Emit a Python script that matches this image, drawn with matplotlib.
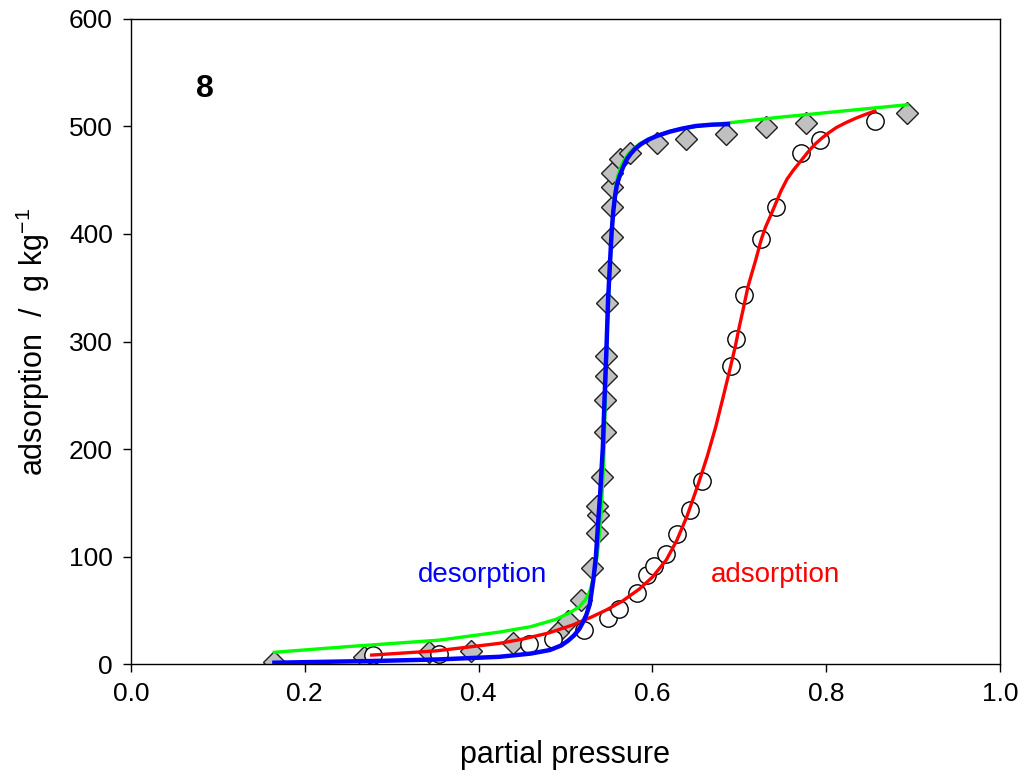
import matplotlib
matplotlib.use('Agg')
import matplotlib.pyplot as plt

plt.rcParams['font.family'] = ['Liberation Sans', 'DejaVu Sans']
plt.rcParams['mathtext.fontset'] = 'custom'
plt.rcParams['mathtext.rm'] = 'Liberation Sans'
plt.rcParams['mathtext.default'] = 'regular'

# measured points, desorption branch (grey diamonds)
des_p = [0.165, 0.268, 0.343, 0.391, 0.440, 0.491, 0.503, 0.518, 0.531, 0.536,
         0.537, 0.536, 0.542, 0.545, 0.546, 0.547, 0.547, 0.548, 0.550, 0.553,
         0.553, 0.554, 0.554, 0.563, 0.574, 0.605, 0.639, 0.685, 0.731, 0.777, 0.893]
des_q = [2.4, 7.1, 11.2, 12.6, 19.5, 29.7, 40.0, 59.8, 89.2, 121.7,
         138.8, 147.0, 173.8, 216.0, 246.0, 268.0, 286.5, 336.0, 366.4, 397.4,
         424.7, 443.3, 456.3, 470.0, 475.0, 484.2, 488.2, 492.6, 499.0, 502.8, 512.0]

# measured points, adsorption branch (open circles)
ads_p = [0.278, 0.354, 0.458, 0.486, 0.521, 0.549, 0.562, 0.582, 0.594, 0.602,
         0.616, 0.628, 0.643, 0.657, 0.690, 0.696, 0.705, 0.725, 0.742, 0.771,
         0.793, 0.856]
ads_q = [8.6, 9.3, 18.6, 23.2, 31.9, 42.7, 51.0, 66.5, 83.0, 91.4,
         103.0, 121.0, 143.4, 170.0, 277.0, 302.0, 343.0, 395.0, 425.0, 475.0,
         487.3, 505.0]

# fitted curves
red_p = [0.277, 0.351, 0.393, 0.424, 0.451, 0.480, 0.508, 0.530, 0.547, 0.565,
         0.585, 0.600, 0.616, 0.628, 0.640, 0.653, 0.663, 0.673, 0.681, 0.689,
         0.695, 0.700, 0.705, 0.710, 0.715, 0.719, 0.725, 0.730, 0.736, 0.742,
         0.748, 0.755, 0.762, 0.769, 0.775, 0.781, 0.788, 0.795, 0.803, 0.812,
         0.823, 0.834, 0.845, 0.856]
red_q = [8.6, 12.5, 16.5, 19.5, 23.5, 29.0, 36.5, 44.0, 50.5, 58.5,
         70.0, 81.0, 97.0, 115.0, 138.0, 168.0, 193.0, 221.0, 247.0, 273.5,
         294.0, 313.7, 332.0, 351.0, 365.0, 376.0, 394.0, 406.0, 417.0, 428.4,
         440.0, 451.0, 459.0, 466.0, 472.0, 478.0, 484.0, 489.0, 494.0, 499.0,
         503.5, 507.5, 511.0, 514.2]

green_p = [0.165, 0.250, 0.355, 0.424, 0.460, 0.489, 0.505, 0.516, 0.523, 0.528,
           0.532, 0.535, 0.538, 0.541, 0.544, 0.546, 0.548, 0.551, 0.554, 0.556,
           0.558, 0.560, 0.563, 0.567, 0.572, 0.578, 0.585, 0.593, 0.603, 0.615,
           0.631, 0.655, 0.685, 0.746, 0.823, 0.893]
green_q = [11.2, 16.5, 22.5, 30.0, 35.0, 41.8, 48.0, 53.5, 60.0, 68.0,
           80.0, 92.0, 112.0, 140.0, 190.0, 250.0, 310.0, 365.0, 413.0, 432.0,
           444.0, 453.0, 461.0, 468.0, 474.0, 479.0, 483.5, 487.0, 490.5, 494.0,
           497.5, 500.5, 503.0, 508.4, 514.5, 520.0]

blue_p = [0.165, 0.290, 0.355, 0.424, 0.460, 0.482, 0.495, 0.503, 0.510, 0.516,
          0.520, 0.524, 0.528, 0.532, 0.535, 0.537, 0.540, 0.543, 0.545, 0.547,
          0.549, 0.551, 0.553, 0.555, 0.557, 0.559, 0.562, 0.566, 0.570, 0.575,
          0.580, 0.587, 0.595, 0.605, 0.620, 0.635, 0.650, 0.668, 0.687]
blue_q = [1.5, 3.3, 4.6, 7.0, 10.0, 13.3, 17.5, 22.0, 27.0, 33.0,
          39.0, 46.0, 56.0, 78.3, 100.0, 124.8, 160.0, 202.0, 248.7, 290.0,
          338.6, 370.0, 400.6, 421.0, 435.0, 445.0, 453.0, 461.5, 468.7, 474.5,
          479.0, 483.5, 487.5, 491.0, 495.0, 498.0, 500.3, 501.5, 502.0]

fig = plt.figure(figsize=(10.25, 7.76), dpi=100)
ax = fig.add_axes([0.1278, 0.1439, 0.8478, 0.8320])

ax.plot(des_p, des_q, linestyle='none', marker='D', markersize=11.5,
        markerfacecolor='#c0c0c0', markeredgecolor='#202020', markeredgewidth=1, zorder=2)
ax.plot(ads_p, ads_q, linestyle='none', marker='o', markersize=12.5,
        markerfacecolor='white', markeredgecolor='black', markeredgewidth=1, zorder=2)

ax.plot(red_p, red_q, color='#ff0000', linewidth=2.4, zorder=3)
ax.plot(green_p, green_q, color='#00ff00', linewidth=2.4, zorder=3)
ax.plot(blue_p, blue_q, color='#0000ff', linewidth=3.2, zorder=4)

ax.text(0.085, 535, '8', fontsize=23, fontweight='bold', ha='center', va='center')
ax.text(0.405, 83, 'desorption', color='#0000ff', fontsize=20, ha='center', va='center')
ax.text(0.742, 83, 'adsorption', color='#ff0000', fontsize=20, ha='center', va='center')

ax.set_xlim(0, 1.0)
ax.set_ylim(0, 600)
ax.set_xticks([0.0, 0.2, 0.4, 0.6, 0.8, 1.0])
ax.set_xticklabels(['0.0', '0.2', '0.4', '0.6', '0.8', '1.0'])
ax.set_yticks([0, 100, 200, 300, 400, 500, 600])
ax.tick_params(direction='out', length=6, width=1, labelsize=19, pad=7)
for s in ax.spines.values():
    s.set_linewidth(1)

ax.set_xlabel('partial pressure', fontsize=22, labelpad=24)
ax.set_ylabel('adsorption  /  g kg$^{-1}$', fontsize=22, labelpad=12)

fig.savefig('out.png', dpi=100)
